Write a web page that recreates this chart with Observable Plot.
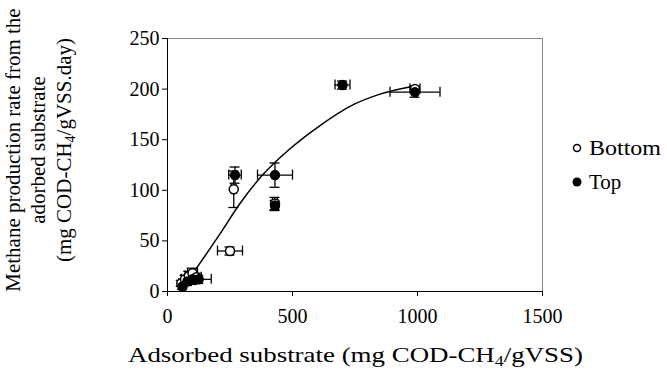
<!DOCTYPE html>
<html><head><meta charset="utf-8">
<script src="https://cdn.jsdelivr.net/npm/d3@7"></script>
<script src="https://cdn.jsdelivr.net/npm/@observablehq/plot@0.6"></script>
<style>body{margin:0;background:#fff}</style>
</head><body><div id="chart"></div>
<script>
// Bottom (hollow) series
const bottomX = [55, 70, 85, 100, 115, 250, 265, 430, 990];
const bottomY = [8, 12, 15, 18, 14, 40, 101, 87, 200];
const bottomXErr = [10, 15, 15, 20, 20, 50, 10, 10, 20];
const bottomYErr = [3, 4, 5, 5, 4, 4, 18, 6, 3];
// Top (filled) series
const topX = [60, 80, 100, 125, 270, 430, 430, 700, 990];
const topY = [5, 10, 12, 12, 115, 115, 85, 204, 197];
const topXErr = [10, 15, 20, 50, 25, 70, 10, 30, 100];
const topYErr = [3, 4, 5, 4, 8, 12, 5, 4, 5];
// fitted trend line
const curveX = [52, 130, 210, 290, 380, 490, 610, 730, 850, 990];
const curveY = [0, 28, 57, 87, 115, 141, 164, 183, 195, 203];
const xTicks = [0, 500, 1000, 1500];
const yTicks = [0, 50, 100, 150, 200, 250];

const pts = [
  ...bottomX.map((x, i) => ({x, y: bottomY[i], ex: bottomXErr[i], ey: bottomYErr[i], s: "Bottom"})),
  ...topX.map((x, i) => ({x, y: topY[i], ex: topXErr[i], ey: topYErr[i], s: "Top"}))
];
const curve = curveX.map((x, i) => ({x, y: curveY[i]}));

const font = "Liberation Serif, Times New Roman, serif";
const plot = Plot.plot({
  width: 667, height: 370,
  marginLeft: 167, marginRight: 125, marginTop: 38, marginBottom: 79,
  style: {fontFamily: font, fontSize: "20px", color: "#000", background: "#fff"},
  x: {domain: [0, 1500], label: null},
  y: {domain: [0, 250], label: null},
  marks: [
    Plot.frame({stroke: "#888", strokeWidth: 1}),
    Plot.axisX({ticks: xTicks, tickSize: 5, tickPadding: 12, fontSize: 20, label: null, tickFormat: d3.format("d")}),
    Plot.axisY({ticks: yTicks, tickSize: 5, tickPadding: 3, fontSize: 20, label: null, tickFormat: d3.format("d")}),
    Plot.ruleY([0], {stroke: "#000"}),
    Plot.ruleX([0], {stroke: "#000"}),
    Plot.line(curve, {x: "x", y: "y", curve: "monotone-x", stroke: "#000", strokeWidth: 1.5}),
    // horizontal error bars
    Plot.ruleY(pts, {y: "y", x1: d => d.x - d.ex, x2: d => d.x + d.ex, stroke: "#000", strokeWidth: 1.3}),
    Plot.ruleX(pts, {x: d => d.x - d.ex, y1: "y", y2: "y", insetTop: -5, insetBottom: -5, stroke: "#000", strokeWidth: 1.3}),
    Plot.ruleX(pts, {x: d => d.x + d.ex, y1: "y", y2: "y", insetTop: -5, insetBottom: -5, stroke: "#000", strokeWidth: 1.3}),
    // vertical error bars
    Plot.ruleX(pts, {x: "x", y1: d => d.y - d.ey, y2: d => d.y + d.ey, stroke: "#000", strokeWidth: 1.3}),
    Plot.ruleY(pts, {y: d => d.y - d.ey, x1: "x", x2: "x", insetLeft: -5, insetRight: -5, stroke: "#000", strokeWidth: 1.3}),
    Plot.ruleY(pts, {y: d => d.y + d.ey, x1: "x", x2: "x", insetLeft: -5, insetRight: -5, stroke: "#000", strokeWidth: 1.3}),
    Plot.dot(pts, {x: "x", y: "y", r: 4.5, stroke: "#000", strokeWidth: 1.5, fill: d => d.s === "Top" ? "#000" : "#fff"})
  ]
});
document.getElementById("chart").appendChild(plot);

const svg = d3.select(plot);
// y-axis title (3 lines, rotated)
const yl = svg.append("g").attr("transform", "translate(0,150) rotate(-90)")
  .attr("font-family", font).attr("font-size", 21).attr("text-anchor", "middle").attr("fill", "#000");
yl.append("text").attr("x", 0).attr("y", 20).text("Methane production rate from the");
yl.append("text").attr("x", 0).attr("y", 45).text("adorbed substrate");
const t3 = yl.append("text").attr("x", 0).attr("y", 71);
t3.append("tspan").text("(mg COD-CH");
t3.append("tspan").attr("font-size", 14).attr("dy", 4).text("4");
t3.append("tspan").attr("dy", -4).text("/gVSS.day)");
// x-axis title
const xt = svg.append("text").attr("x", 128).attr("y", 362).attr("font-family", font)
  .attr("font-size", 21).attr("text-anchor", "start").attr("fill", "#000")
  .attr("textLength", 455).attr("lengthAdjust", "spacingAndGlyphs");
xt.append("tspan").text("Adsorbed substrate (mg COD-CH");
xt.append("tspan").attr("font-size", 14).attr("dy", 4).text("4");
xt.append("tspan").attr("dy", -4).text("/gVSS)");
// legend
const lg = svg.append("g").attr("font-family", font).attr("font-size", 21).attr("fill", "#000").attr("text-anchor", "start");
lg.append("circle").attr("cx", 577).attr("cy", 148).attr("r", 3.5).attr("fill", "#fff").attr("stroke", "#000").attr("stroke-width", 1.5);
lg.append("text").attr("x", 589).attr("y", 155).attr("textLength", 72).attr("lengthAdjust", "spacingAndGlyphs").text("Bottom");
lg.append("circle").attr("cx", 577).attr("cy", 182).attr("r", 4.5).attr("fill", "#000");
lg.append("text").attr("x", 589).attr("y", 189).text("Top");
</script></body></html>
